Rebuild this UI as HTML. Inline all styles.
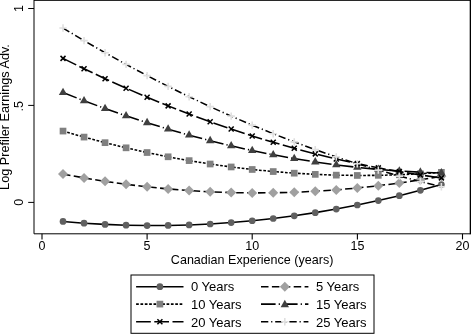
<!DOCTYPE html>
<html><head><meta charset="utf-8"><title>Chart</title><style>html,body{margin:0;padding:0;background:#fff}svg{display:block}</style></head><body>
<svg width="471" height="334" viewBox="0 0 471 334" font-family="'Liberation Sans', Arial, sans-serif" font-size="12.5" fill="#000">
<rect width="471" height="334" fill="#fff"/>
<path d="M63.02 221.47L84.04 223.15L105.06 224.38L126.08 225.18L147.10 225.54L168.12 225.47L189.14 224.95L210.16 223.99L231.18 222.60L252.20 220.76L273.22 218.49L294.24 215.78L315.26 212.63L336.28 209.04L357.30 205.01L378.32 200.55L399.34 195.64L420.36 190.30L441.38 184.51" fill="none" stroke="#000" stroke-width="1.55"/>
<circle cx="63.02" cy="221.47" r="3.35" fill="#606060"/><circle cx="84.04" cy="223.15" r="3.35" fill="#606060"/><circle cx="105.06" cy="224.38" r="3.35" fill="#606060"/><circle cx="126.08" cy="225.18" r="3.35" fill="#606060"/><circle cx="147.10" cy="225.54" r="3.35" fill="#606060"/><circle cx="168.12" cy="225.47" r="3.35" fill="#606060"/><circle cx="189.14" cy="224.95" r="3.35" fill="#606060"/><circle cx="210.16" cy="223.99" r="3.35" fill="#606060"/><circle cx="231.18" cy="222.60" r="3.35" fill="#606060"/><circle cx="252.20" cy="220.76" r="3.35" fill="#606060"/><circle cx="273.22" cy="218.49" r="3.35" fill="#606060"/><circle cx="294.24" cy="215.78" r="3.35" fill="#606060"/><circle cx="315.26" cy="212.63" r="3.35" fill="#606060"/><circle cx="336.28" cy="209.04" r="3.35" fill="#606060"/><circle cx="357.30" cy="205.01" r="3.35" fill="#606060"/><circle cx="378.32" cy="200.55" r="3.35" fill="#606060"/><circle cx="399.34" cy="195.64" r="3.35" fill="#606060"/><circle cx="420.36" cy="190.30" r="3.35" fill="#606060"/><circle cx="441.38" cy="184.51" r="3.35" fill="#606060"/>
<path d="M63.02 174.06L84.04 177.91L105.06 181.32L126.08 184.29L147.10 186.82L168.12 188.92L189.14 190.57L210.16 191.79L231.18 192.57L252.20 192.91L273.22 192.81L294.24 192.27L315.26 191.29L336.28 189.88L357.30 188.02L378.32 185.73L399.34 183.00L420.36 179.83L441.38 176.22" fill="none" stroke="#000" stroke-width="1.55" stroke-dasharray="7.5 3.4"/>
<path d="M58.02 174.06L63.02 169.06L68.02 174.06L63.02 179.06Z" fill="#a0a0a0"/><path d="M79.04 177.91L84.04 172.91L89.04 177.91L84.04 182.91Z" fill="#a0a0a0"/><path d="M100.06 181.32L105.06 176.32L110.06 181.32L105.06 186.32Z" fill="#a0a0a0"/><path d="M121.08 184.29L126.08 179.29L131.08 184.29L126.08 189.29Z" fill="#a0a0a0"/><path d="M142.10 186.82L147.10 181.82L152.10 186.82L147.10 191.82Z" fill="#a0a0a0"/><path d="M163.12 188.92L168.12 183.92L173.12 188.92L168.12 193.92Z" fill="#a0a0a0"/><path d="M184.14 190.57L189.14 185.57L194.14 190.57L189.14 195.57Z" fill="#a0a0a0"/><path d="M205.16 191.79L210.16 186.79L215.16 191.79L210.16 196.79Z" fill="#a0a0a0"/><path d="M226.18 192.57L231.18 187.57L236.18 192.57L231.18 197.57Z" fill="#a0a0a0"/><path d="M247.20 192.91L252.20 187.91L257.20 192.91L252.20 197.91Z" fill="#a0a0a0"/><path d="M268.22 192.81L273.22 187.81L278.22 192.81L273.22 197.81Z" fill="#a0a0a0"/><path d="M289.24 192.27L294.24 187.27L299.24 192.27L294.24 197.27Z" fill="#a0a0a0"/><path d="M310.26 191.29L315.26 186.29L320.26 191.29L315.26 196.29Z" fill="#a0a0a0"/><path d="M331.28 189.88L336.28 184.88L341.28 189.88L336.28 194.88Z" fill="#a0a0a0"/><path d="M352.30 188.02L357.30 183.02L362.30 188.02L357.30 193.02Z" fill="#a0a0a0"/><path d="M373.32 185.73L378.32 180.73L383.32 185.73L378.32 190.73Z" fill="#a0a0a0"/><path d="M394.34 183.00L399.34 178.00L404.34 183.00L399.34 188.00Z" fill="#a0a0a0"/><path d="M415.36 179.83L420.36 174.83L425.36 179.83L420.36 184.83Z" fill="#a0a0a0"/><path d="M436.38 176.22L441.38 171.22L446.38 176.22L441.38 181.22Z" fill="#a0a0a0"/>
<path d="M63.02 131.07L84.04 137.09L105.06 142.67L126.08 147.82L147.10 152.53L168.12 156.79L189.14 160.62L210.16 164.01L231.18 166.96L252.20 169.48L273.22 171.55L294.24 173.18L315.26 174.38L336.28 175.14L357.30 175.46L378.32 175.33L399.34 174.78L420.36 173.78L441.38 172.34" fill="none" stroke="#000" stroke-width="1.55" stroke-dasharray="2.7 1.65"/>
<rect x="59.67" y="127.72" width="6.7" height="6.7" fill="#808080"/><rect x="80.69" y="133.74" width="6.7" height="6.7" fill="#808080"/><rect x="101.71" y="139.32" width="6.7" height="6.7" fill="#808080"/><rect x="122.73" y="144.47" width="6.7" height="6.7" fill="#808080"/><rect x="143.75" y="149.18" width="6.7" height="6.7" fill="#808080"/><rect x="164.77" y="153.44" width="6.7" height="6.7" fill="#808080"/><rect x="185.79" y="157.27" width="6.7" height="6.7" fill="#808080"/><rect x="206.81" y="160.66" width="6.7" height="6.7" fill="#808080"/><rect x="227.83" y="163.61" width="6.7" height="6.7" fill="#808080"/><rect x="248.85" y="166.13" width="6.7" height="6.7" fill="#808080"/><rect x="269.87" y="168.20" width="6.7" height="6.7" fill="#808080"/><rect x="290.89" y="169.83" width="6.7" height="6.7" fill="#808080"/><rect x="311.91" y="171.03" width="6.7" height="6.7" fill="#808080"/><rect x="332.93" y="171.79" width="6.7" height="6.7" fill="#808080"/><rect x="353.95" y="172.11" width="6.7" height="6.7" fill="#808080"/><rect x="374.97" y="171.98" width="6.7" height="6.7" fill="#808080"/><rect x="395.99" y="171.43" width="6.7" height="6.7" fill="#808080"/><rect x="417.01" y="170.43" width="6.7" height="6.7" fill="#808080"/><rect x="438.03" y="168.99" width="6.7" height="6.7" fill="#808080"/>
<path d="M63.02 92.55L84.04 100.75L105.06 108.51L126.08 115.83L147.10 122.70L168.12 129.15L189.14 135.15L210.16 140.71L231.18 145.83L252.20 150.52L273.22 154.77L294.24 158.57L315.26 161.94L336.28 164.87L357.30 167.36L378.32 169.42L399.34 171.03L420.36 172.21L441.38 172.94" fill="none" stroke="#000" stroke-width="1.55" stroke-dasharray="14.6 3.1 1.2 3.1"/>
<path d="M58.82 95.00L63.02 87.70L67.22 95.00Z" fill="#404040"/><path d="M79.84 103.20L84.04 95.90L88.24 103.20Z" fill="#404040"/><path d="M100.86 110.96L105.06 103.66L109.26 110.96Z" fill="#404040"/><path d="M121.88 118.28L126.08 110.98L130.28 118.28Z" fill="#404040"/><path d="M142.90 125.15L147.10 117.85L151.30 125.15Z" fill="#404040"/><path d="M163.92 131.60L168.12 124.30L172.32 131.60Z" fill="#404040"/><path d="M184.94 137.60L189.14 130.30L193.34 137.60Z" fill="#404040"/><path d="M205.96 143.16L210.16 135.86L214.36 143.16Z" fill="#404040"/><path d="M226.98 148.28L231.18 140.98L235.38 148.28Z" fill="#404040"/><path d="M248.00 152.97L252.20 145.67L256.40 152.97Z" fill="#404040"/><path d="M269.02 157.22L273.22 149.92L277.42 157.22Z" fill="#404040"/><path d="M290.04 161.02L294.24 153.72L298.44 161.02Z" fill="#404040"/><path d="M311.06 164.39L315.26 157.09L319.46 164.39Z" fill="#404040"/><path d="M332.08 167.32L336.28 160.02L340.48 167.32Z" fill="#404040"/><path d="M353.10 169.81L357.30 162.51L361.50 169.81Z" fill="#404040"/><path d="M374.12 171.87L378.32 164.57L382.52 171.87Z" fill="#404040"/><path d="M395.14 173.48L399.34 166.18L403.54 173.48Z" fill="#404040"/><path d="M416.16 174.66L420.36 167.36L424.56 174.66Z" fill="#404040"/><path d="M437.18 175.39L441.38 168.09L445.58 175.39Z" fill="#404040"/>
<path d="M63.02 58.40L84.04 68.77L105.06 78.70L126.08 88.19L147.10 97.24L168.12 105.85L189.14 114.03L210.16 121.76L231.18 129.06L252.20 135.92L273.22 142.34L294.24 148.32L315.26 153.86L336.28 158.97L357.30 163.63L378.32 167.85L399.34 171.64L420.36 174.99L441.38 177.90" fill="none" stroke="#000" stroke-width="1.55" stroke-dasharray="14.7 3.5"/>
<path d="M60.52 55.90L65.52 60.90M60.52 60.90L65.52 55.90" stroke="#000" stroke-width="1.5" fill="none"/><path d="M81.54 66.27L86.54 71.27M81.54 71.27L86.54 66.27" stroke="#000" stroke-width="1.5" fill="none"/><path d="M102.56 76.20L107.56 81.20M102.56 81.20L107.56 76.20" stroke="#000" stroke-width="1.5" fill="none"/><path d="M123.58 85.69L128.58 90.69M123.58 90.69L128.58 85.69" stroke="#000" stroke-width="1.5" fill="none"/><path d="M144.60 94.74L149.60 99.74M144.60 99.74L149.60 94.74" stroke="#000" stroke-width="1.5" fill="none"/><path d="M165.62 103.35L170.62 108.35M165.62 108.35L170.62 103.35" stroke="#000" stroke-width="1.5" fill="none"/><path d="M186.64 111.53L191.64 116.53M186.64 116.53L191.64 111.53" stroke="#000" stroke-width="1.5" fill="none"/><path d="M207.66 119.26L212.66 124.26M207.66 124.26L212.66 119.26" stroke="#000" stroke-width="1.5" fill="none"/><path d="M228.68 126.56L233.68 131.56M228.68 131.56L233.68 126.56" stroke="#000" stroke-width="1.5" fill="none"/><path d="M249.70 133.42L254.70 138.42M249.70 138.42L254.70 133.42" stroke="#000" stroke-width="1.5" fill="none"/><path d="M270.72 139.84L275.72 144.84M270.72 144.84L275.72 139.84" stroke="#000" stroke-width="1.5" fill="none"/><path d="M291.74 145.82L296.74 150.82M291.74 150.82L296.74 145.82" stroke="#000" stroke-width="1.5" fill="none"/><path d="M312.76 151.36L317.76 156.36M312.76 156.36L317.76 151.36" stroke="#000" stroke-width="1.5" fill="none"/><path d="M333.78 156.47L338.78 161.47M333.78 161.47L338.78 156.47" stroke="#000" stroke-width="1.5" fill="none"/><path d="M354.80 161.13L359.80 166.13M354.80 166.13L359.80 161.13" stroke="#000" stroke-width="1.5" fill="none"/><path d="M375.82 165.35L380.82 170.35M375.82 170.35L380.82 165.35" stroke="#000" stroke-width="1.5" fill="none"/><path d="M396.84 169.14L401.84 174.14M396.84 174.14L401.84 169.14" stroke="#000" stroke-width="1.5" fill="none"/><path d="M417.86 172.49L422.86 177.49M417.86 177.49L422.86 172.49" stroke="#000" stroke-width="1.5" fill="none"/><path d="M438.88 175.40L443.88 180.40M438.88 180.40L443.88 175.40" stroke="#000" stroke-width="1.5" fill="none"/>
<path d="M63.02 28.07L84.04 40.61L105.06 52.71L126.08 64.38L147.10 75.60L168.12 86.39L189.14 96.74L210.16 106.65L231.18 116.12L252.20 125.15L273.22 133.74L294.24 141.89L315.26 149.61L336.28 156.88L357.30 163.72L378.32 170.12L399.34 176.08L420.36 181.60L441.38 186.68" fill="none" stroke="#000" stroke-width="1.55" stroke-dasharray="7.3 2.85 1.2 2.85"/>
<path d="M59.32 28.07L66.72 28.07M63.02 24.37L63.02 31.77" stroke="#e0e0e0" stroke-width="1.6" fill="none"/><path d="M80.34 40.61L87.74 40.61M84.04 36.91L84.04 44.31" stroke="#e0e0e0" stroke-width="1.6" fill="none"/><path d="M101.36 52.71L108.76 52.71M105.06 49.01L105.06 56.41" stroke="#e0e0e0" stroke-width="1.6" fill="none"/><path d="M122.38 64.38L129.78 64.38M126.08 60.68L126.08 68.08" stroke="#e0e0e0" stroke-width="1.6" fill="none"/><path d="M143.40 75.60L150.80 75.60M147.10 71.90L147.10 79.30" stroke="#e0e0e0" stroke-width="1.6" fill="none"/><path d="M164.42 86.39L171.82 86.39M168.12 82.69L168.12 90.09" stroke="#e0e0e0" stroke-width="1.6" fill="none"/><path d="M185.44 96.74L192.84 96.74M189.14 93.04L189.14 100.44" stroke="#e0e0e0" stroke-width="1.6" fill="none"/><path d="M206.46 106.65L213.86 106.65M210.16 102.95L210.16 110.35" stroke="#e0e0e0" stroke-width="1.6" fill="none"/><path d="M227.48 116.12L234.88 116.12M231.18 112.42L231.18 119.82" stroke="#e0e0e0" stroke-width="1.6" fill="none"/><path d="M248.50 125.15L255.90 125.15M252.20 121.45L252.20 128.85" stroke="#e0e0e0" stroke-width="1.6" fill="none"/><path d="M269.52 133.74L276.92 133.74M273.22 130.04L273.22 137.44" stroke="#e0e0e0" stroke-width="1.6" fill="none"/><path d="M290.54 141.89L297.94 141.89M294.24 138.19L294.24 145.59" stroke="#e0e0e0" stroke-width="1.6" fill="none"/><path d="M311.56 149.61L318.96 149.61M315.26 145.91L315.26 153.31" stroke="#e0e0e0" stroke-width="1.6" fill="none"/><path d="M332.58 156.88L339.98 156.88M336.28 153.18L336.28 160.58" stroke="#e0e0e0" stroke-width="1.6" fill="none"/><path d="M353.60 163.72L361.00 163.72M357.30 160.02L357.30 167.42" stroke="#e0e0e0" stroke-width="1.6" fill="none"/><path d="M374.62 170.12L382.02 170.12M378.32 166.42L378.32 173.82" stroke="#e0e0e0" stroke-width="1.6" fill="none"/><path d="M395.64 176.08L403.04 176.08M399.34 172.38L399.34 179.78" stroke="#e0e0e0" stroke-width="1.6" fill="none"/><path d="M416.66 181.60L424.06 181.60M420.36 177.90L420.36 185.30" stroke="#e0e0e0" stroke-width="1.6" fill="none"/><path d="M437.68 186.68L445.08 186.68M441.38 182.98L441.38 190.38" stroke="#e0e0e0" stroke-width="1.6" fill="none"/>
<path d="M34 0.45H471" fill="none" stroke="#000" stroke-width="0.9"/><path d="M470.35 0V234.3" fill="none" stroke="#000" stroke-width="1.3"/>
<path d="M34 0V233.8H470.5" fill="none" stroke="#000" stroke-width="1"/>
<path d="M28.2 8.5H34" stroke="#000" stroke-width="1"/>
<path d="M28.2 105.4H34" stroke="#000" stroke-width="1"/>
<path d="M28.2 202.4H34" stroke="#000" stroke-width="1"/>
<path d="M42.0 233.8V239.4" stroke="#000" stroke-width="1.1"/>
<text x="42.0" y="250.1" text-anchor="middle">0</text>
<path d="M147.1 233.8V239.4" stroke="#000" stroke-width="1.1"/>
<text x="147.1" y="250.1" text-anchor="middle">5</text>
<path d="M252.2 233.8V239.4" stroke="#000" stroke-width="1.1"/>
<text x="252.2" y="250.1" text-anchor="middle">10</text>
<path d="M357.4 233.8V239.4" stroke="#000" stroke-width="1.1"/>
<text x="357.4" y="250.1" text-anchor="middle">15</text>
<path d="M462.5 233.8V239.4" stroke="#000" stroke-width="1.1"/>
<text x="462.5" y="250.1" text-anchor="middle">20</text>
<text transform="translate(22.5 8.5) rotate(-90)" text-anchor="middle">1</text>
<text transform="translate(22.5 106.30000000000001) rotate(-90)" text-anchor="middle">.5</text>
<text transform="translate(22.5 202.4) rotate(-90)" text-anchor="middle">0</text>
<text transform="translate(9.4 117) rotate(-90)" font-size="12.7" text-anchor="middle">Log Prefiler Earnings Adv.</text>
<text x="252.1" y="264.2" font-size="12.56" text-anchor="middle">Canadian Experience (years)</text>
<rect x="131" y="275" width="243" height="58.3" fill="#fff" stroke="#000" stroke-width="1"/>
<path d="M136.1 286.7H183.5" stroke="#000" stroke-width="1.55"/>
<circle cx="159.90" cy="286.70" r="3.35" fill="#606060"/>
<text x="191.0" y="290.9" font-size="13">0 Years</text>
<path d="M261.0 286.7H308.4" stroke="#000" stroke-width="1.55" stroke-dasharray="7.5 3.4"/>
<path d="M279.80 286.70L284.80 281.70L289.80 286.70L284.80 291.70Z" fill="#a0a0a0"/>
<text x="316.0" y="290.9" font-size="13">5 Years</text>
<path d="M136.1 304.1H183.5" stroke="#000" stroke-width="1.55" stroke-dasharray="2.7 1.65"/>
<rect x="156.55" y="300.75" width="6.7" height="6.7" fill="#808080"/>
<text x="191.0" y="308.6" font-size="13">10 Years</text>
<path d="M261.0 304.1H308.4" stroke="#000" stroke-width="1.55" stroke-dasharray="14.6 3.1 1.2 3.1"/>
<path d="M280.60 307.15L284.80 299.85L289.00 307.15Z" fill="#404040"/>
<text x="316.0" y="308.6" font-size="13">15 Years</text>
<path d="M136.1 321.8H183.5" stroke="#000" stroke-width="1.55" stroke-dasharray="14.7 3.5"/>
<path d="M157.40 319.30L162.40 324.30M157.40 324.30L162.40 319.30" stroke="#000" stroke-width="1.5" fill="none"/>
<text x="191.0" y="326.5" font-size="13">20 Years</text>
<path d="M261.0 321.8H308.4" stroke="#000" stroke-width="1.55" stroke-dasharray="7.3 2.85 1.2 2.85"/>
<path d="M281.10 321.80L288.50 321.80M284.80 318.10L284.80 325.50" stroke="#e0e0e0" stroke-width="1.6" fill="none"/>
<text x="316.0" y="326.5" font-size="13">25 Years</text>
</svg>
</body></html>
